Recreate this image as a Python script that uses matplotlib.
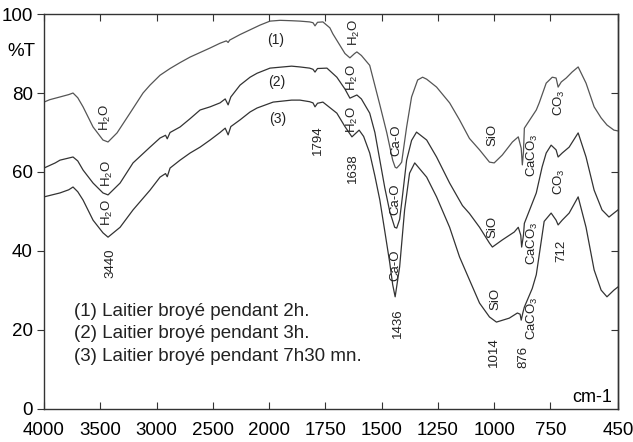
import numpy as np
import matplotlib
matplotlib.use('Agg')
import matplotlib.pyplot as plt

plt.rcParams['font.family'] = ['Liberation Sans', 'DejaVu Sans']

# spectrum (1) - Laitier broye 2h
wn1 = [4000, 3950, 3858, 3780, 3742, 3700, 3653, 3564, 3476, 3431, 3351, 3236, 3120, 3058,
       2969, 2880, 2791, 2702, 2524, 2436, 2380, 2364, 2350, 2258, 2169, 2080, 1996, 1951,
       1900, 1863, 1820, 1805, 1796, 1785, 1761, 1730, 1717, 1690, 1663, 1641, 1620, 1610,
       1590, 1553, 1508, 1477, 1451, 1440, 1433, 1420, 1411, 1389, 1367, 1340, 1318, 1300,
       1256, 1198, 1154, 1110, 1065, 1021, 1000, 964, 919, 893, 880, 875, 870, 866, 813,
       800, 769, 742, 725, 716, 702, 680, 654, 627, 592, 556, 525, 499, 468, 450]
t1 = [77.7, 78.3, 79.0, 79.6, 80.0, 78.8, 76.5, 71.4, 68.1, 67.6, 69.9, 74.9, 80.0, 82.0,
      84.5, 86.2, 87.7, 89.1, 91.4, 92.6, 93.2, 92.8, 93.4, 94.8, 96.0, 97.2, 98.2, 98.4,
      98.3, 98.2, 98.0, 97.8, 97.0, 97.9, 98.0, 96.5, 95.0, 92.5, 90.0, 88.9, 90.0, 90.4,
      89.5, 87.0, 77.0, 69.9, 63.0, 61.2, 61.0, 61.8, 62.5, 71.4, 79.0, 83.3, 84.0, 83.5,
      81.5, 77.5, 73.2, 68.5, 65.6, 62.5, 62.3, 64.3, 67.6, 68.9, 66.0, 61.8, 65.0, 71.1, 75.7,
      77.5, 82.5, 84.0, 83.8, 81.5, 82.8, 83.8, 85.3, 86.6, 82.5, 76.5, 73.7, 71.9, 70.6, 70.4]

# spectrum (2) - Laitier broye 3h
wn2 = [4000, 3900, 3858, 3742, 3700, 3653, 3564, 3476, 3431, 3324, 3209, 3058, 2969, 2920,
       2905, 2880, 2791, 2702, 2613, 2524, 2436, 2390, 2364, 2340, 2258, 2169, 2107, 1996,
       1900, 1863, 1820, 1805, 1796, 1785, 1743, 1699, 1663, 1641, 1610, 1590, 1553, 1530,
       1508, 1486, 1464, 1442, 1433, 1420, 1411, 1389, 1367, 1345, 1300, 1256, 1198, 1141,
       1110, 1065, 1021, 1008, 964, 911, 893, 882, 878, 870, 866, 813, 800, 787, 769, 747,
       725, 716, 698, 667, 627, 592, 556, 521, 490, 468, 450]
t2 = [61.0, 62.3, 63.0, 63.8, 62.8, 60.5, 57.2, 54.7, 54.2, 57.2, 62.3, 66.3, 68.6, 69.3,
      68.4, 70.0, 71.4, 73.5, 75.7, 76.5, 77.5, 78.5, 77.0, 79.0, 82.0, 84.0, 85.0, 86.3,
      86.8, 86.6, 86.3, 86.0, 85.3, 86.2, 86.3, 84.0, 81.0, 78.7, 79.5, 78.5, 74.9, 70.0,
      63.0, 56.0, 50.0, 46.0, 45.8, 48.0, 52.2, 63.0, 68.0, 70.1, 68.1, 63.8, 57.2, 51.5,
      49.5, 46.0, 42.0, 41.0, 42.8, 44.8, 46.0, 44.0, 41.0, 44.0, 47.0, 54.7, 58.0, 61.3, 64.8,
      66.8, 65.6, 63.8, 64.8, 66.3, 69.9, 63.8, 55.4, 50.4, 48.6, 49.6, 50.4]

# spectrum (3) - Laitier broye 7h30 mn
wn3 = [4000, 3858, 3780, 3742, 3700, 3653, 3564, 3476, 3431, 3324, 3209, 3058, 2969, 2920,
       2905, 2880, 2791, 2702, 2613, 2524, 2436, 2390, 2364, 2340, 2258, 2169, 2107, 1982,
       1900, 1863, 1820, 1805, 1796, 1785, 1761, 1699, 1663, 1632, 1600, 1580, 1553, 1530,
       1508, 1486, 1464, 1451, 1440, 1420, 1398, 1376, 1353, 1300, 1256, 1198, 1154, 1110,
       1065, 1021, 990, 933, 897, 885, 880, 872, 866, 831, 813, 800, 778, 747, 725, 716,
       698, 667, 627, 592, 556, 525, 499, 468, 450]
t3 = [53.7, 54.7, 55.5, 56.2, 55.0, 52.9, 47.8, 44.6, 43.5, 46.0, 50.4, 55.4, 58.7, 59.6,
      58.8, 61.0, 63.0, 64.8, 66.3, 68.1, 70.0, 71.1, 69.4, 71.5, 73.2, 75.2, 76.2, 77.7,
      78.2, 78.2, 77.8, 77.5, 76.5, 77.4, 77.7, 74.9, 71.5, 68.9, 70.6, 69.0, 64.8, 59.0,
      52.9, 45.0, 37.0, 31.5, 28.4, 36.0, 50.4, 59.7, 62.3, 58.7, 53.7, 46.0, 38.5, 32.7,
      26.8, 23.3, 22.0, 23.0, 24.3, 24.0, 22.5, 24.5, 25.8, 30.5, 34.0, 39.0, 47.5, 49.6,
      47.8, 46.6, 47.8, 49.6, 53.7, 46.0, 35.2, 30.1, 28.4, 30.1, 30.9]

x_ticks = [4000, 3500, 3000, 2500, 2000, 1750, 1500, 1250, 1000, 750, 450]
y_ticks = [0, 20, 40, 60, 80, 100]

legend_lines = ['(1) Laitier broyé pendant 2h.',
                '(2) Laitier broyé pendant 3h.',
                '(3) Laitier broyé pendant 7h30 mn.']

h2o = r'H$_{\mathregular{2}}$O'
caco3 = r'CaCO$_{\mathregular{3}}$'
co3 = r'CO$_{\mathregular{3}}$'
# (text, wavenumber, %T) for the vertical labels
band_labels = [
    (h2o, 3458, 73.7), (h2o, 3440, 59.7), (h2o, 3440, 49.6), ('3440', 3413, 37.0),
    ('1794', 1785, 68.1),
    (h2o, 1619, 95.2), (h2o, 1628, 83.8), (h2o, 1628, 73.2), ('1638', 1628, 61.0),
    ('Ca-O', 1433, 68.1), ('Ca-O', 1440, 53.0), ('Ca-O', 1440, 36.3), ('1436', 1429, 21.8),
    ('SiO', 1008, 69.4), ('SiO', 1008, 46.0), ('SiO', 995, 27.8), ('1014', 999, 14.4),
    (caco3, 831, 64.3), (caco3, 831, 42.0), (caco3, 831, 23.0), ('876', 870, 13.2),
    (co3, 711, 77.5), (co3, 711, 57.5), ('712', 702, 40.0),
]
curve_numbers = [('(1)', 1973, 93.4), ('(2)', 1965, 82.8), ('(3)', 1960, 73.4)]


def fwd(x):
    x = np.asarray(x, dtype=float)
    return np.where(x >= 2000, 2000 + (x - 2000) / 2.0, x)


def inv(p):
    p = np.asarray(p, dtype=float)
    return np.where(p >= 2000, 2000 + (p - 2000) * 2.0, p)


fig = plt.figure(figsize=(6.33, 4.42), dpi=100)
ax = fig.add_axes([0.0695, 0.0747, 0.9068, 0.8936])
ax.set_xscale('function', functions=(fwd, inv))

ax.plot(wn1, t1, color='#555555', lw=0.9)
ax.plot(wn2, t2, color='#333333', lw=0.9)
ax.plot(wn3, t3, color='#333333', lw=0.9)

ax.set_xlim(4000, 450)
ax.set_ylim(0, 100)
ax.set_xticks(x_ticks)
ax.set_xticklabels([str(v) for v in x_ticks])
ax.set_yticks(y_ticks)
ax.tick_params(axis='x', direction='in', top=True, bottom=True, length=5,
               labelsize=13.5, pad=9.5, color='#333333')
ax.tick_params(axis='y', direction='out', left=True, right=False, length=5,
               labelsize=13.5, pad=3, color='#333333')
sec = ax.secondary_yaxis('right')
sec.set_yticks([20, 40, 60, 80])
sec.tick_params(direction='in', length=5, labelright=False, color='#333333')
for s in list(ax.spines.values()) + list(sec.spines.values()):
    s.set_color('#333333')
    s.set_linewidth(1.0)

for txt, x, y in band_labels:
    ax.text(x, y, txt, rotation=90, ha='center', va='center', fontsize=9.5, color='#222222')
for txt, x, y in curve_numbers:
    ax.text(x, y, txt, ha='center', va='center', fontsize=10, color='#222222')
for i, line in enumerate(legend_lines):
    ax.text(3733, 24.8 - 5.8 * i, line, ha='left', va='center', fontsize=13.5, color='#222222')

ax.text(-0.04, 0.905, '%T', transform=ax.transAxes, ha='center', va='center',
        fontsize=13.5, clip_on=False)
ax.text(0.99, 0.03, 'cm-1', transform=ax.transAxes, ha='right', va='center', fontsize=13)

fig.savefig('out.png', dpi=100)
